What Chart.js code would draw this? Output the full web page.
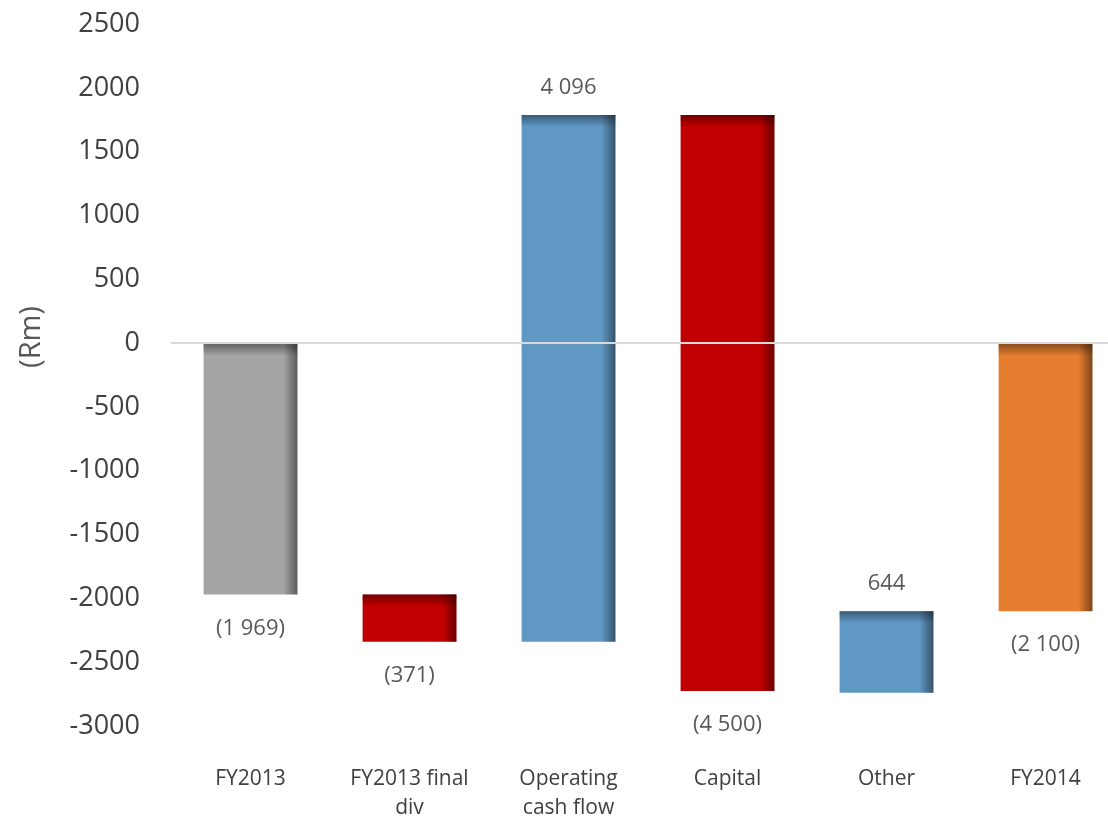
<!DOCTYPE html>
<html>
<head>
<meta charset="utf-8">
<script src="https://cdn.jsdelivr.net/npm/chart.js@4/dist/chart.umd.min.js"></script>
<style>
  html, body { margin: 0; padding: 0; background: #fff; overflow: hidden; }
  #wrap { width: 1126px; height: 821px; }
</style>
</head>
<body>
<div id="wrap"><canvas id="chart" width="1126" height="821"></canvas></div>
<script>
// waterfall steps (Rm)
var categories = [['FY2013'], ['FY2013 final', 'div'], ['Operating', 'cash flow'], ['Capital'], ['Other'], ['FY2014']];
var startValues = [0, -1969, -2340, 1787, -2740, 0];
var endValues = [-1969, -2340, 1787, -2725, -2100, -2100];
var valueLabels = ['(1 969)', '(371)', '4 096', '(4 500)', '644', '(2 100)'];
var barColors = ['#A5A5A5', '#C00000', '#6098C4', '#C00000', '#6098C4', '#E67E30'];
var yTicks = { min: -3000, max: 2500, step: 500 };

var ranges = startValues.map(function (s, i) { return [s, endValues[i]]; });

// inner shadow on top and right edge of each bar
var shadePlugin = {
  id: 'shade',
  afterDatasetsDraw: function (chart) {
    var ctx = chart.ctx;
    chart.getDatasetMeta(0).data.forEach(function (bar) {
      var p = bar.getProps(['x', 'y', 'base', 'width'], true);
      var l = p.x - p.width / 2, r = p.x + p.width / 2;
      var t = Math.min(p.y, p.base), b = Math.max(p.y, p.base);
      ctx.save();
      var g = ctx.createLinearGradient(r - 14, 0, r, 0);
      g.addColorStop(0, 'rgba(0,0,0,0)');
      g.addColorStop(1, 'rgba(0,0,0,0.45)');
      ctx.fillStyle = g;
      ctx.fillRect(r - 14, t, 14, b - t);
      var h = Math.min(12, b - t);
      var g2 = ctx.createLinearGradient(0, t, 0, t + h);
      g2.addColorStop(0, 'rgba(0,0,0,0.4)');
      g2.addColorStop(1, 'rgba(0,0,0,0)');
      ctx.fillStyle = g2;
      ctx.fillRect(l, t, p.width, h);
      ctx.restore();
    });
  }
};

// value labels above rises, below falls
var labelPlugin = {
  id: 'valueLabels',
  afterDraw: function (chart) {
    var ctx = chart.ctx;
    ctx.save();
    ctx.font = '22px "Open Sans"';
    ctx.fillStyle = '#595959';
    ctx.textAlign = 'center';
    ctx.textBaseline = 'middle';
    chart.getDatasetMeta(0).data.forEach(function (bar, i) {
      var p = bar.getProps(['x', 'y', 'base'], true);
      var up = endValues[i] > startValues[i];
      var t = Math.min(p.y, p.base), b = Math.max(p.y, p.base);
      ctx.fillText(valueLabels[i], p.x, up ? t - 27 : b + 34);
    });
    // axis title
    ctx.translate(32, 337);
    ctx.rotate(-Math.PI / 2);
    ctx.font = '29px "Open Sans"';
    ctx.fillText('(Rm)', 0, 0);
    ctx.restore();
  }
};

new Chart(document.getElementById('chart'), {
  type: 'bar',
  data: {
    labels: categories,
    datasets: [{
      data: ranges,
      backgroundColor: barColors,
      borderWidth: 0,
      categoryPercentage: 1,
      barPercentage: 0.59
    }]
  },
  options: {
    responsive: false,
    animation: false,
    layout: { padding: { top: 24, right: 1, left: 0, bottom: 0 } },
    plugins: { legend: { display: false }, tooltip: { enabled: false } },
    scales: {
      x: {
        grid: { display: false },
        border: { display: false },
        ticks: {
          color: '#404040',
          font: { family: 'Open Sans', size: 21, lineHeight: 1.4 },
          padding: 30,
          maxRotation: 0,
          autoSkip: false
        },
        afterFit: function (s) { s.height = 95; }
      },
      y: {
        min: yTicks.min,
        max: yTicks.max,
        border: { display: false },
        grid: {
          z: 1,
          drawTicks: false,
          lineWidth: 2,
          color: function (c) { return c.tick && c.tick.value === 0 ? '#D9D9D9' : 'rgba(0,0,0,0)'; }
        },
        ticks: {
          stepSize: yTicks.step,
          color: '#404040',
          font: { family: 'Open Sans', size: 27 },
          padding: 31,
          callback: function (v) { return String(v); }
        },
        afterFit: function (s) { s.width = 171; s.paddingTop = 0; s.paddingBottom = 0; }
      }
    }
  },
  plugins: [shadePlugin, labelPlugin]
});
</script>
</body>
</html>
